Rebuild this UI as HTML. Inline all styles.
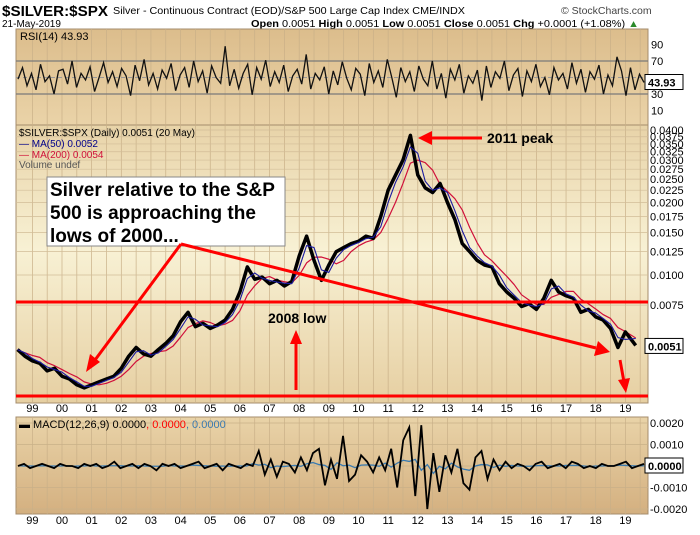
<!DOCTYPE html>
<html><head><meta charset="utf-8"><style>
body{margin:0;background:#fff;}
svg text{font-family:"Liberation Sans",sans-serif;}
</style></head><body>
<svg id="c" width="700" height="530" xmlns="http://www.w3.org/2000/svg">
<defs>
<linearGradient id="gR" x1="0" y1="0" x2="0" y2="1"><stop offset="0" stop-color="#dcbd8c"/><stop offset="1" stop-color="#ead3a8"/></linearGradient>
<linearGradient id="gP" x1="0" y1="0" x2="0" y2="1"><stop offset="0" stop-color="#e8d3a8"/><stop offset="0.45" stop-color="#f8f1d4"/><stop offset="1" stop-color="#e6cfa2"/></linearGradient>
<linearGradient id="gM" x1="0" y1="0" x2="0" y2="1"><stop offset="0" stop-color="#e9d3a8"/><stop offset="1" stop-color="#d4b080"/></linearGradient>
</defs>
<text x="2" y="16" font-size="15" font-weight="bold" textLength="106" lengthAdjust="spacingAndGlyphs">$SILVER:$SPX</text>
<text x="113" y="14" font-size="10.5" textLength="352" lengthAdjust="spacingAndGlyphs">Silver - Continuous Contract (EOD)/S&amp;P 500 Large Cap Index  CME/INDX</text>
<text x="561" y="14" font-size="10.5" fill="#444">© StockCharts.com</text>
<text x="2" y="27" font-size="10">21-May-2019</text>
<text x="251" y="27" font-size="10" textLength="388" lengthAdjust="spacingAndGlyphs"><tspan font-weight="bold">Open</tspan> 0.0051  <tspan font-weight="bold">High</tspan> 0.0051  <tspan font-weight="bold">Low</tspan> 0.0051  <tspan font-weight="bold">Close</tspan> 0.0051  <tspan font-weight="bold">Chg</tspan> +0.0001 (+1.08%) <tspan fill="#2a8a2a">▲</tspan></text>

<rect x="16" y="29" width="632" height="96" fill="url(#gR)" stroke="#a58c6c"/>
<rect x="16" y="125" width="632" height="278" fill="url(#gP)" stroke="#a58c6c"/>
<rect x="16" y="417" width="632" height="97" fill="url(#gM)" stroke="#a58c6c"/>
<g id="grid"></g>
<g id="rsi"></g>
<g id="price"></g>
<g id="macd"></g>
<g id="axes"></g>

<text x="20" y="40" font-size="11">RSI(14) 43.93</text>
<text x="19" y="136" font-size="10" font-family="DejaVu Sans Mono">$SILVER:$SPX (Daily) 0.0051 (20 May)</text>
<text x="19" y="147" font-size="10" fill="#00008b">— MA(50) 0.0052</text>
<text x="19" y="158" font-size="10" fill="#d0103a">— MA(200) 0.0054</text>
<text x="19" y="168" font-size="10" fill="#555">Volume undef</text>
<text x="19" y="428" font-size="11">▬ MACD(12,26,9) 0.0000<tspan fill="red">, 0.0000</tspan><tspan fill="#3a7ab0">, 0.0000</tspan></text>

<g>
<rect x="47" y="177" width="238" height="69" fill="#fff" stroke="#888"/>
<text font-size="19" font-weight="bold"><tspan x="50" y="196">Silver relative to the S&amp;P</tspan><tspan x="50" y="219">500 is approaching the</tspan><tspan x="50" y="242">lows of 2000...</tspan></text>
<line x1="16" y1="302" x2="648" y2="302" stroke="#f00" stroke-width="3"/>
<line x1="16" y1="396" x2="648" y2="396" stroke="#f00" stroke-width="3"/>
<line x1="181" y1="244" x2="95" y2="360" stroke="#f00" stroke-width="3"/>
<polygon points="86,372 90,354 100,362" fill="#f00"/>
<line x1="181" y1="244" x2="596" y2="348" stroke="#f00" stroke-width="3"/>
<polygon points="610,352 594,356 598,341" fill="#f00"/>
<line x1="296" y1="390" x2="296" y2="342" stroke="#f00" stroke-width="3"/>
<polygon points="296,330 290,344 302,344" fill="#f00"/>
<text x="268" y="323" font-size="14" font-weight="bold">2008 low</text>
<line x1="482" y1="138" x2="430" y2="138" stroke="#f00" stroke-width="3"/>
<polygon points="418,138 432,131 432,145" fill="#f00"/>
<text x="487" y="143" font-size="14" font-weight="bold">2011 peak</text>
<line x1="620" y1="360" x2="624" y2="382" stroke="#f00" stroke-width="3"/>
<polygon points="626,393 618,380 630,378" fill="#f00"/>
</g>
</svg>
<script>
const years=['99','00','01','02','03','04','05','06','07','08','09','10','11','12','13','14','15','16','17','18','19'];
const rsiValues=[48,62,40,55,35,66,45,52,30,58,60,42,70,38,55,47,63,33,50,68,44,57,39,61,52,28,65,46,72,41,55,36,59,49,67,34,53,62,38,70,45,58,31,64,50,43,88,40,60,37,55,66,29,62,48,71,39,57,44,65,33,52,60,42,78,36,55,47,63,30,58,41,69,49,35,61,54,28,67,44,58,38,72,50,26,62,45,57,33,64,48,40,70,36,55,25,60,47,66,31,52,43,59,22,64,38,57,49,70,34,53,61,27,58,45,66,39,50,29,62,47,55,36,68,43,60,32,57,48,65,30,53,40,75,58,28,62,35,54,44];
const priceTimes=[1998.5,1998.75,1999,1999.25,1999.5,1999.75,2000,2000.25,2000.5,2000.75,2001,2001.25,2001.5,2001.75,2002,2002.25,2002.5,2002.75,2003,2003.25,2003.5,2003.75,2004,2004.25,2004.5,2004.75,2005,2005.25,2005.5,2005.75,2006,2006.25,2006.5,2006.75,2007,2007.25,2007.5,2007.75,2008,2008.25,2008.5,2008.75,2009,2009.25,2009.5,2009.75,2010,2010.25,2010.5,2010.75,2011,2011.25,2011.5,2011.75,2012,2012.25,2012.5,2012.75,2013,2013.25,2013.5,2013.75,2014,2014.25,2014.5,2014.75,2015,2015.25,2015.5,2015.75,2016,2016.25,2016.5,2016.75,2017,2017.25,2017.5,2017.75,2018,2018.25,2018.5,2018.75,2019,2019.35];
const priceValues=[4.9,4.6,4.4,4.3,4.0,4.1,3.8,3.7,3.5,3.4,3.5,3.6,3.7,3.8,4.1,4.6,5.0,4.7,4.6,4.9,5.2,5.6,6.4,7.0,6.1,6.3,6.0,6.2,6.5,7.2,8.5,10.8,9.6,9.8,9.2,9.5,9.0,9.4,12.0,14.5,11.5,9.5,11.0,12.5,13.0,13.5,13.8,14.5,14.2,17.5,22.5,26,30,38,26,23,22,24,20,17,13.5,12.5,11.5,11,10.8,9.2,8.5,8.0,7.4,7.6,7.2,8.0,9.5,8.5,8.2,8.0,7.0,7.2,6.7,6.5,6.0,5.0,5.8,5.1];
const macdValues=[0,1,-1,0,1,0,-1,1,0,0,-1,1,0,1,-1,0,2,-1,0,1,-1,1,0,-2,1,0,1,-1,0,1,2,-1,0,1,-2,1,0,-1,1,0,7,-4,3,-5,2,1,-3,4,-2,6,8,-9,3,-6,14,-7,-4,5,2,-3,4,-2,8,-10,12,18,-14,19,-20,6,-12,5,-3,8,-8,-11,4,7,-6,3,-2,2,-1,1,0,-2,1,2,-1,0,1,-1,2,1,-1,0,-1,1,0,0,1,2,-1,0,1];
const priceTicks=[0.04,0.0375,0.035,0.0325,0.03,0.0275,0.025,0.0225,0.02,0.0175,0.015,0.0125,0.01,0.0075];
const rsiTicks=[90,70,50,30,10];
const macdTicks=[0.002,0.001,0,-0.001,-0.002];

const NS='http://www.w3.org/2000/svg';
const L=16,R=648;
const xT=t=>62+(t-2000)*29.65;
const yR=v=>77.5-(v-50)*0.825;
const yP=v=>275-Math.log(v/0.01)*104.6;
const yM=v=>466-v*21500;
function mk(tag,attrs,parent){const e=document.createElementNS(NS,tag);for(const k in attrs)e.setAttribute(k,attrs[k]);parent.appendChild(e);return e;}
const grid=document.getElementById('grid'),axes=document.getElementById('axes');
for(let t=1999;t<=2019.5;t+=0.5){const x=xT(t);if(x<L||x>R)continue;
 [[29,125],[125,403],[417,514]].forEach(([a,b])=>{const l=mk('line',{x1:x,x2:x,y1:a,y2:b,stroke:'#c9b088','stroke-width':0.7},grid);
 
 });}
priceTicks.forEach(v=>{const y=yP(v);const l=mk('line',{x1:L,x2:R,y1:y,y2:y,stroke:'#d2bd98','stroke-width':0.7},grid);
 
 
 const t=mk('text',{x:650,y:y+4,'font-size':11},axes);t.textContent=v.toFixed(4);
 
 });
rsiTicks.forEach(v=>{const y=yR(v);
 if(v==70||v==30){const l=mk('line',{x1:L,x2:R,y1:y,y2:y,stroke:'#7a7a7a','stroke-width':1.3},grid);}
 if(v==50){const l=mk('line',{x1:L,x2:R,y1:y,y2:y,stroke:'#999','stroke-dasharray':'4 3'},grid);}
 if(v!=50){const t=mk('text',{x:651,y:y+4,'font-size':11},axes);t.textContent=v;
 
 }});
macdTicks.forEach(v=>{const y=yM(v);const l=mk('line',{x1:L,x2:R,y1:y,y2:y,stroke:'#c9b088','stroke-width':0.7},grid);
 
 
 if(v!==0){const t=mk('text',{x:650,y:y+4,'font-size':11},axes);t.textContent=v.toFixed(4);
 
 }});
years.forEach((s,i)=>{const x=xT(1999+i);[412,524].forEach(y=>{const t=mk('text',{x:x,y:y,'font-size':11,'text-anchor':'middle'},axes);t.textContent=s;
 
 });});
const rsiPts=rsiValues.map((v,i)=>[L+2+i*(R-L-6)/(rsiValues.length-1),yR(v)]);
const rl=mk('polyline',{points:rsiPts.map(p=>p.join(',')).join(' '),fill:'none',stroke:'#111','stroke-width':1.3},document.getElementById('rsi'));


const pg=document.getElementById('price');
function ma(n){return priceValues.map((v,i)=>{let s=0,c=0;for(let j=Math.max(0,i-n+1);j<=i;j++){s+=priceValues[j];c++;}return s/c;});}
const ma50=ma(2),ma200=ma(4);
function line(vals,color,w,name){const p=mk('polyline',{points:vals.map((v,i)=>xT(priceTimes[i])+','+yP(v/1000)).join(' '),fill:'none',stroke:color,'stroke-width':w,'stroke-linejoin':'round'},pg);
 
 }
line(ma200,'#d0103a',1.2,'ma200-line');
line(priceValues,'#000',3.5,'price-line');
line(ma50,'#1a1aa0',1.1,'ma50-line');
const mg=document.getElementById('macd');
const mx=i=>L+2+i*(R-L-6)/(macdValues.length-1);
const sig=macdValues.map((v,i)=>((macdValues[i-1]||0)+v+(macdValues[i+1]||0))/3*0.4);
const sl=mk('polyline',{points:sig.map((v,i)=>mx(i)+','+yM(v/10000)).join(' '),fill:'none',stroke:'#3a7ab0','stroke-width':1.3},mg);


const ml=mk('polyline',{points:macdValues.map((v,i)=>mx(i)+','+yM(v/10000)).join(' '),fill:'none',stroke:'#000','stroke-width':1.8},mg);


function box(y,txt,name){const r=mk('rect',{x:645,y:y-8,width:38,height:15,fill:'#fff',stroke:'#000'},axes);
 
 
 const t=mk('text',{x:648,y:y+4,'font-size':11,'font-weight':'bold'},axes);t.textContent=txt;
 
 }
box(yR(43.93),'43.93','rsi-value');
box(yP(0.0051)+1,'0.0051','price-value');
box(yM(0),'0.0000','macd-value');
</script>
</body></html>
